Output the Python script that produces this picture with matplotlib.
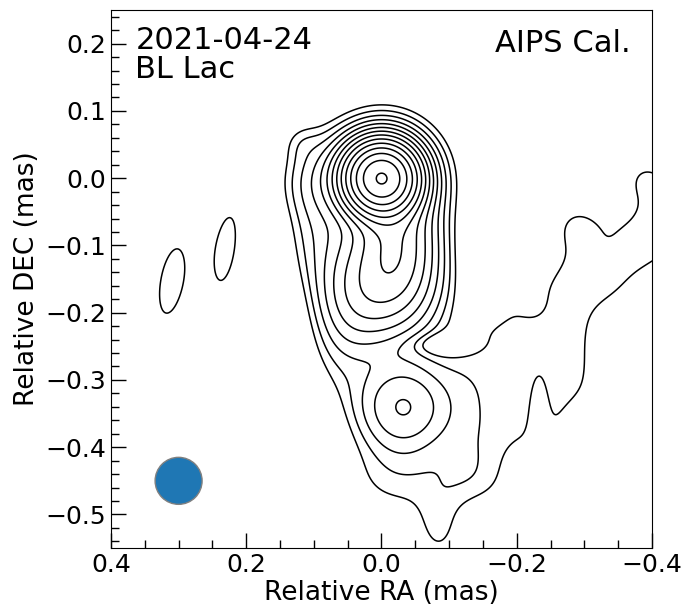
import numpy as np
import matplotlib
matplotlib.use("Agg")
import matplotlib.pyplot as plt
from matplotlib.patches import Ellipse

# Gaussian model components (RA, DEC in mas; amplitude in units of lowest contour)
# core, halo, jet knots, southern knot, outer/diffuse emission, edge wiggles, isolated blobs
comp_x   = [0.000, 0.000, -0.020, 0.015, -0.060, 0.045, -0.032, -0.030, -0.085,
            0.090, 0.120, 0.100, 0.060, -0.233, -0.090,
            -0.190, -0.285, -0.385, -0.225, -0.330,
            0.310, 0.230]
comp_y   = [0.000, 0.000, -0.100, -0.170, -0.170, -0.150, -0.340, -0.450, -0.525,
            0.000, 0.055, -0.090, -0.250, -0.370, -0.247,
            -0.170, -0.070, 0.000, -0.190, -0.095,
            -0.153, -0.105]
comp_amp = [88.0, 3.5, 9.0, 4.2, 1.5, 2.0, 4.0, 1.05, 0.95,
            1.3, 0.5, 1.0, 1.0, -0.8, -0.8,
            0.3, 0.3, 0.3, -0.25, -0.25,
            1.2, 1.2]
comp_sx  = [0.030, 0.065, 0.035, 0.040, 0.040, 0.035, 0.046, 0.070, 0.025,
            0.040, 0.020, 0.030, 0.035, 0.010, 0.035,
            0.020, 0.020, 0.020, 0.020, 0.020,
            0.027, 0.020]
comp_sy  = [0.030, 0.065, 0.060, 0.050, 0.060, 0.060, 0.046, 0.045, 0.040,
            0.040, 0.020, 0.060, 0.060, 0.050, 0.012,
            0.020, 0.020, 0.020, 0.020, 0.020,
            0.080, 0.072]
comp_pa  = [0, 0, 0, 0, 0, 0, 0, 0, 0,
            0, 0, 0, 0, 0, 0,
            0, 0, 0, 0, 0,
            -10, -8]

# faint diffuse plume to the south-west (clean-component like points)
plume_x = [-0.120, -0.120, -0.120, -0.120, -0.120,
           -0.165, -0.165, -0.165, -0.165, -0.165, -0.165,
           -0.210, -0.210, -0.210, -0.210, -0.210,
           -0.255, -0.255, -0.255, -0.255, -0.255, -0.255,
           -0.300, -0.300, -0.300, -0.300, -0.300, -0.300,
           -0.345, -0.345, -0.345,
           -0.390, -0.390, -0.390, -0.390,
           -0.435, -0.435, -0.435,
           -0.290]
plume_y = [-0.270, -0.317, -0.364, -0.411, -0.458,
           -0.225, -0.267, -0.314, -0.361, -0.408, -0.455,
           -0.190, -0.237, -0.284, -0.331, -0.378,
           -0.140, -0.187, -0.234, -0.281, -0.328, -0.375,
           -0.090, -0.132, -0.179, -0.226, -0.273, -0.320,
           -0.085, -0.130, -0.170,
           0.005, -0.040, -0.085, -0.125,
           -0.010, -0.057, -0.100,
           -0.070]
plume_amp = 0.47
plume_sigma = 0.03

n_levels = 14
level_step = np.sqrt(2.0)

ra = np.linspace(0.45, -0.45, 500)
dec = np.linspace(-0.6, 0.3, 500)
X, Y = np.meshgrid(ra, dec)
img = np.zeros_like(X)
for x0, y0, a, sx, sy, pa in zip(comp_x, comp_y, comp_amp, comp_sx, comp_sy, comp_pa):
    t = np.deg2rad(pa)
    dx, dy = X - x0, Y - y0
    u = dx * np.cos(t) - dy * np.sin(t)
    v = dx * np.sin(t) + dy * np.cos(t)
    img += a * np.exp(-0.5 * ((u / sx) ** 2 + (v / sy) ** 2))
for x0, y0 in zip(plume_x, plume_y):
    img += plume_amp * np.exp(-0.5 * ((X - x0) ** 2 + (Y - y0) ** 2) / plume_sigma ** 2)

levels = level_step ** np.arange(n_levels)

fig = plt.figure(figsize=(6.98, 6.09), dpi=100)
ax = fig.add_axes([0.159, 0.100, 0.775, 0.8836])

ax.contour(X, Y, img, levels=levels, colors="black", linewidths=1.1)

beam = Ellipse((0.3, -0.45), 0.0695, 0.0699, facecolor="#1f77b4", edgecolor="gray", lw=1)
ax.add_patch(beam)

ax.set_xlim(0.4, -0.4)
ax.set_ylim(-0.55, 0.25)
ax.set_xticks([0.4, 0.2, 0.0, -0.2, -0.4])
ax.set_xticks(np.arange(-0.4, 0.41, 0.05), minor=True)
ax.set_yticks(np.arange(-0.5, 0.21, 0.1))
ax.set_yticks(np.arange(-0.54, 0.25, 0.02), minor=True)
ax.tick_params(which="major", direction="in", length=11, width=1, labelsize=18)
ax.tick_params(which="minor", direction="in", length=6, width=1)
ax.set_xlabel("Relative RA (mas)", fontsize=19, labelpad=2)
ax.set_ylabel("Relative DEC (mas)", fontsize=19)

ax.text(0.045, 0.97, "2021-04-24\nBL Lac", transform=ax.transAxes, fontsize=22,
        va="top", ha="left", linespacing=1.0)
ax.text(0.96, 0.965, "AIPS Cal.", transform=ax.transAxes, fontsize=22,
        va="top", ha="right")

fig.savefig("out.png", dpi=100)
